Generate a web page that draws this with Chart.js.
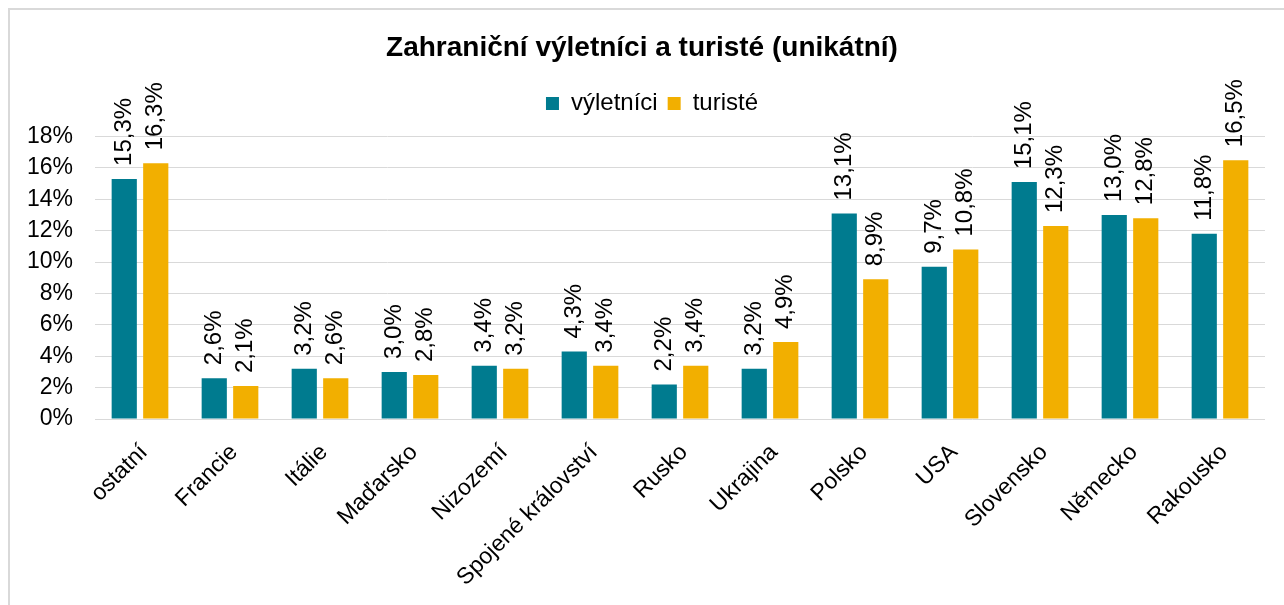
<!DOCTYPE html>
<html>
<head>
<meta charset="utf-8">
<script src="https://cdn.jsdelivr.net/npm/chart.js@4/dist/chart.umd.min.js"></script>
<style>
  html, body { margin: 0; padding: 0; background: #fff; }
  #frame { position: absolute; left: 8px; top: 8px; width: 1300px; height: 620px;
           border-top: 2px solid #d9d9d9; border-left: 2px solid #d9d9d9; }
  #wrap { position: absolute; left: 0; top: 0; width: 1284px; height: 605px; overflow: hidden; }
  canvas { position: absolute; left: 0; top: 0; }
</style>
</head>
<body>
<div id="wrap">
  <div id="frame"></div>
  <canvas id="chart" width="1284" height="605"></canvas>
</div>
<script>
// countries on the x axis
var countries = ['ostatní', 'Francie', 'Itálie', 'Maďarsko', 'Nizozemí', 'Spojené království',
                 'Rusko', 'Ukrajina', 'Polsko', 'USA', 'Slovensko', 'Německo', 'Rakousko'];

// shares in percent
var vyletnici = [15.3, 2.6, 3.2, 3.0, 3.4, 4.3, 2.2, 3.2, 13.1, 9.7, 15.1, 13.0, 11.8];
var turiste   = [16.3, 2.1, 2.6, 2.8, 3.2, 3.4, 3.4, 4.9, 8.9, 10.8, 12.3, 12.8, 16.5];

var yTicks = [0, 2, 4, 6, 8, 10, 12, 14, 16, 18];

var FONT = "'Liberation Sans', Arial, sans-serif";

function pct(v) {
    return v.toFixed(1).replace('.', ',') + '%';
}

// vertical value labels above each bar
var barLabels = {
    id: 'barLabels',
    afterDatasetsDraw: function(chart) {
        var ctx = chart.ctx;
        ctx.save();
        ctx.font = '24px ' + FONT;
        ctx.fillStyle = '#000';
        ctx.textAlign = 'left';
        ctx.textBaseline = 'middle';
        chart.data.datasets.forEach(function(ds, i) {
            chart.getDatasetMeta(i).data.forEach(function(bar, j) {
                ctx.save();
                ctx.translate(bar.x, bar.y - 13);
                ctx.rotate(-Math.PI / 2);
                ctx.fillText(pct(ds.data[j]), 0, 0);
                ctx.restore();
            });
        });
        ctx.restore();
    }
};

// a bit more room under the legend, and nudge it to the right
var legendGap = {
    id: 'legendGap',
    beforeInit: function(chart) {
        var legend = chart.legend;
        var fit = legend.fit;
        var draw = legend.draw;
        legend.fit = function() {
            fit.call(this);
            this.height += 11;
        };
        legend.draw = function() {
            this.left += 10;
            this.right += 10;
            draw.call(this);
            this.left -= 10;
            this.right -= 10;
        };
    }
};

var ctx = document.getElementById('chart').getContext('2d');

var myChart = new Chart(ctx, {
    type: 'bar',
    data: {
        labels: countries,
        datasets: [{
            label: 'výletníci',
            data: vyletnici,
            backgroundColor: '#007b8f',
            borderWidth: 0
        }, {
            label: 'turisté',
            data: turiste,
            backgroundColor: '#f2af00',
            borderWidth: 0
        }]
    },
    options: {
        responsive: false,
        animation: false,
        categoryPercentage: 0.7,
        barPercentage: 0.8,
        layout: {
            padding: { left: 19, right: 19, top: 0, bottom: 0 }
        },
        scales: {
            x: {
                grid: { display: false, drawTicks: false },
                border: { display: false },
                ticks: {
                    autoSkip: false,
                    minRotation: 45,
                    maxRotation: 45,
                    padding: 20,
                    labelOffset: 4,
                    color: '#000',
                    font: { family: FONT, size: 23 }
                },
                afterFit: function(scale) {
                    scale.height = 186;
                }
            },
            y: {
                min: 0,
                max: 18,
                grid: { color: '#d9d9d9', lineWidth: 1, drawTicks: false },
                border: { display: false },
                afterBuildTicks: function(scale) {
                    scale.ticks = yTicks.map(function(v) { return { value: v }; });
                },
                ticks: {
                    padding: 22,
                    color: '#000',
                    font: { family: FONT, size: 23 },
                    callback: function(v) { return v + '%'; }
                },
                afterFit: function(scale) {
                    scale.width = 76;
                }
            }
        },
        plugins: {
            title: {
                display: true,
                text: 'Zahraniční výletníci a turisté (unikátní)',
                color: '#000',
                font: { family: FONT, size: 28, weight: 'bold' },
                padding: { top: 31, bottom: 17 }
            },
            legend: {
                display: true,
                labels: {
                    boxWidth: 13,
                    boxHeight: 13,
                    padding: 10,
                    color: '#000',
                    font: { family: FONT, size: 24 }
                }
            },
            tooltip: { enabled: false }
        }
    },
    plugins: [barLabels, legendGap]
});
</script>
</body>
</html>
